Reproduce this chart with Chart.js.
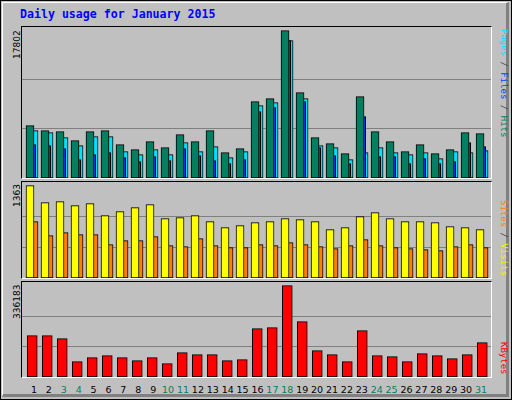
<!DOCTYPE html>
<html>
<head>
<meta charset="utf-8">
<script src="https://cdn.jsdelivr.net/npm/chart.js@4"></script>
<style>
  html, body { margin: 0; padding: 0; }
  #frame { position: relative; width: 510px; height: 398px; background: #c0c0c0;
           border: 1px solid #000; overflow: hidden; }
  #inner { position: absolute; left: 1px; top: 1px; width: 503px; height: 391px;
           border-right: 3px solid #808080; border-bottom: 3px solid #808080; border-top: 1px solid #fff; border-left: 1px solid #fff; }
  .panel { position: absolute; left: 20px; width: 469px; border-top: 1px solid #000; border-left: 1px solid #000;
           border-right: 1px solid #fff; border-bottom: 1px solid #fff; }
  .panel canvas { position: absolute; left: 0; top: 0; }
  .title { position: absolute; left: 19px; top: 6px; font: bold 11.6px "DejaVu Sans Mono", monospace; color: #0000ff; }
  .rot { position: absolute; white-space: nowrap; transform-origin: 0 0; }
  .lt { font: 9px "DejaVu Sans", sans-serif; color: #000; transform: rotate(-90deg); }
  .rt { font: 9px "DejaVu Sans Mono", monospace; color: #404040; transform: rotate(90deg); }
  .day { position: absolute; top: 383px; width: 16px; margin-left: -8px; text-align: center;
         font: 9.5px "DejaVu Sans", sans-serif; }
</style>
</head>
<body>
<div id="frame">
  <div id="inner"></div>
  <div class="title">Daily usage for January 2015</div>
  <div class="panel" style="top:25px;height:151px"><canvas id="c1"></canvas></div>
  <div class="panel" style="top:180px;height:96px"><canvas id="c2"></canvas></div>
  <div class="panel" style="top:280px;height:95px"><canvas id="c3"></canvas></div>
  <div class="rot lt" style="left:11px;top:58px">17802</div>
  <div class="rot lt" style="left:11px;top:206px">1363</div>
  <div class="rot lt" style="left:11px;top:318px">336183</div>
  <div class="rot rt" style="left:508px;top:28px"><span style="color:#00e0ff">Pages</span> / <span style="color:#0040ff">Files</span> / <span style="color:#008060">Hits</span></div>
  <div class="rot rt" style="left:508px;top:199px"><span style="color:#ff8000">Sites</span> / <span style="color:#f0f000">Visits</span></div>
  <div class="rot rt" style="left:508px;top:341px"><span style="color:#ff0000">KBytes</span></div>
  <div id="days"></div>
</div>
<script>
const days = [1,2,3,4,5,6,7,8,9,10,11,12,13,14,15,16,17,18,19,20,21,22,23,24,25,26,27,28,29,30,31];
const weekend = [3,4,10,11,17,18,24,25,31];
const hits  = [6321,5717,5596,4509,5596,5717,4026,3422,4388,3664,5234,4388,5717,3060,3543,9220,9582,17802,10307,4871,4147,2939,9823,5596,4388,3181,4026,2939,3422,5475,5355];
const files = [4026,3905,3543,2214,2818,3060,2456,1973,2577,2094,3543,2697,2094,1731,2214,8012,8495,16587,9220,3664,2697,1731,7408,2577,2577,1731,2335,1731,1973,4268,3784];
const pages = [5717,5475,4871,3905,4992,4992,3181,2818,3422,2818,4268,3181,3784,2456,3181,8736,9099,16587,9582,3905,3664,2214,3060,3664,3060,2818,3060,2335,3181,3060,3301];
const visits = [1363,1111,1126,1067,1096,919,978,1037,1082,875,890,919,831,742,772,816,831,875,860,831,713,742,905,964,875,831,831,816,757,742,713];
const sites  = [831,624,669,639,639,492,551,551,610,477,462,580,477,447,447,492,477,521,492,462,433,477,565,477,447,433,418,403,462,492,447];
const kbytes = [152198,152198,141151,56460,71189,78554,71189,60143,71189,49096,89600,82236,82236,60143,63825,177973,181655,336183,203748,96965,82236,56460,170609,78554,74871,56460,85918,78554,67507,82236,126422];
const maxHits = 17802, maxVisits = 1363, maxKB = 336183;

const dayBox = document.getElementById('days');
days.forEach((d, i) => {
  const el = document.createElement('div');
  el.className = 'day';
  el.style.left = (33 + 14.9 * i) + 'px';
  el.style.color = weekend.includes(d) ? '#008060' : '#000';
  el.textContent = d;
  dayBox.appendChild(el);
});

function pts(vals, shift) { return vals.map((v, i) => ({ x: days[i] + shift, y: v })); }
function ds(vals, shift, color, thick) {
  return { data: pts(vals, shift), backgroundColor: color, borderColor: '#000', borderWidth: 1,
           barThickness: thick, maxBarThickness: thick, grouped: false, borderSkipped: false };
}

function panel(id, w, h, datasets, yMax, step) {
  const c = document.getElementById(id);
  new Chart(c, {
    type: 'bar',
    data: { datasets },
    options: {
      responsive: false, animation: false, devicePixelRatio: 1,
      layout: { padding: 0 },
      plugins: { legend: { display: false }, tooltip: { enabled: false } },
      scales: {
        x: { type: 'linear', min: 0.467, max: 31.73, display: false, offset: false },
        y: { min: 0, max: yMax, border: { display: false },
             afterBuildTicks: s => { s.ticks = [{ value: step }, { value: step * 2 }]; },
             grid: { color: '#808080', lineWidth: 1, drawTicks: false },
             ticks: { display: false } }
      }
    }
  });
}

function sizeCanvas(id, w, h) {
  const c = document.getElementById(id);
  c.width = w; c.height = h; c.style.width = w + 'px'; c.style.height = h + 'px';
}
sizeCanvas('c1', 469, 151); sizeCanvas('c2', 469, 96); sizeCanvas('c3', 469, 95);

panel('c1', 469, 151, [ds(hits, 0, '#008060', 8), ds(files, 0.11, '#0040ff', 8), ds(pages, 0.27, '#00e0ff', 8)], 18237, maxHits / 3);
panel('c2', 469, 96, [ds(visits, 0, '#ffff00', 8), ds(sites, 0.27, '#ff8000', 8)], 1416, maxVisits / 3);
panel('c3', 469, 95, [ds(kbytes, 0.15, '#ff0000', 10)], 349800, maxKB / 3);
</script>
</body>
</html>
